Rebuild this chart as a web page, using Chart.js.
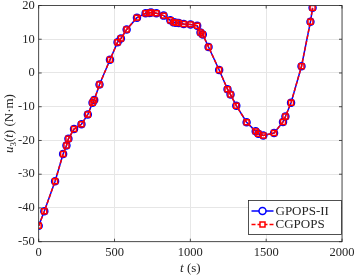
<!DOCTYPE html>
<html>
<head>
<meta charset="utf-8">
<script src="https://cdn.jsdelivr.net/npm/chart.js@4.4.1/dist/chart.umd.min.js"></script>
<style>
  html, body { margin: 0; padding: 0; background: #fff; }
  #wrap { width: 355px; height: 277px; }
</style>
</head>
<body>
<div id="wrap"><canvas id="chart"></canvas></div>
<script>
// t (s) and u3(t) (N·m)
const timeS = [0, 37, 108, 161, 183, 196, 233, 282, 324, 355, 366, 401, 470, 520, 542, 580,
  648, 705, 730, 741, 776, 824, 868, 890, 905, 923, 956, 1001, 1045, 1067, 1082, 1120,
  1190, 1245, 1265, 1303, 1371, 1431, 1448, 1481, 1552, 1611, 1627, 1664, 1733, 1792, 1806];
const gpopsU3 = [-45.3, -41.0, -32.1, -24.0, -21.5, -19.5, -16.6, -15.2, -12.3, -8.8, -8.0, -3.4, 3.9, 9.1, 10.2, 12.9,
  16.4, 17.7, 17.8, 17.9, 17.7, 17.0, 15.6, 15.0, 14.9, 14.8, 14.5, 14.4, 14.0, 12.0, 11.4, 7.7,
  0.9, -4.8, -6.4, -9.7, -14.6, -17.3, -18.0, -18.5, -17.8, -14.5, -12.9, -8.8, 2.0, 15.2, 19.3];
const cgpopsU3 = [-45.3, -41.0, -32.1, -24.0, -21.5, -19.5, -16.6, -15.2, -12.3, -8.8, -8.0, -3.4, 3.9, 9.1, 10.2, 12.9,
  16.4, 17.7, 17.8, 17.9, 17.7, 17.0, 15.6, 15.0, 14.9, 14.8, 14.5, 14.4, 14.0, 12.0, 11.4, 7.7,
  0.9, -4.8, -6.4, -9.7, -14.6, -17.3, -18.0, -18.5, -17.8, -14.5, -12.9, -8.8, 2.0, 15.2, 19.3];
const xTicks = [0, 500, 1000, 1500, 2000];
const yTicks = [-50, -40, -30, -20, -10, 0, 10, 20];
const seriesNames = ["GPOPS-II", "CGPOPS"];

const FONT = "Liberation Serif, Times New Roman, serif";
const AXIS = "#262626";

const toPoints = (ys) => timeS.map((t, i) => ({ x: t, y: ys[i] }));

// frame, inward ticks, tick labels, axis titles, legend (matlab look)
const matlabLook = {
  id: "matlabLook",
  afterDraw(chart) {
    const { ctx, chartArea: a, scales } = chart;
    ctx.save();
    ctx.strokeStyle = AXIS;
    ctx.lineWidth = 0.8;
    ctx.strokeRect(a.left, a.top, a.right - a.left, a.bottom - a.top);

    ctx.beginPath();
    xTicks.forEach((v) => {
      const px = scales.x.getPixelForValue(v);
      ctx.moveTo(px, a.bottom); ctx.lineTo(px, a.bottom - 3);
      ctx.moveTo(px, a.top); ctx.lineTo(px, a.top + 3);
    });
    yTicks.forEach((v) => {
      const py = scales.y.getPixelForValue(v);
      ctx.moveTo(a.left, py); ctx.lineTo(a.left + 3, py);
      ctx.moveTo(a.right, py); ctx.lineTo(a.right - 3, py);
    });
    ctx.stroke();

    // tick labels
    ctx.fillStyle = AXIS;
    ctx.font = "12.5px " + FONT;
    ctx.textBaseline = "middle";
    ctx.textAlign = "center";
    xTicks.forEach((v) => ctx.fillText(String(v), scales.x.getPixelForValue(v), a.bottom + 11));
    ctx.textAlign = "right";
    yTicks.forEach((v) => ctx.fillText(String(v), a.left - 4, scales.y.getPixelForValue(v)));

    // x title: t (s)
    ctx.textBaseline = "alphabetic";
    const cx = (a.left + a.right) / 2;
    const xParts = [["italic 13px " + FONT, "t"], ["13px " + FONT, " (s)"]];
    drawParts(ctx, xParts, cx, 272);

    // y title: u3(t) (N·m)
    ctx.save();
    ctx.translate(13, (a.top + a.bottom) / 2);
    ctx.rotate(-Math.PI / 2);
    const yParts = [["italic 13px " + FONT, "u"], ["9px " + FONT, "3", 3], ["13px " + FONT, "("],
      ["italic 13px " + FONT, "t"], ["13px " + FONT, ") (N·m)"]];
    drawParts(ctx, yParts, 0, 0);
    ctx.restore();

    // legend
    const lx = 248.5, ly = 200.5, lw = 93, lh = 34;
    ctx.fillStyle = "#fff";
    ctx.fillRect(lx, ly, lw, lh);
    ctx.strokeStyle = AXIS;
    ctx.lineWidth = 0.8;
    ctx.strokeRect(lx, ly, lw, lh);
    chart.data.datasets.forEach((ds, i) => {
      const ry = ly + 10.5 + i * 13.5;
      ctx.strokeStyle = ds.borderColor;
      ctx.lineWidth = ds.borderWidth;
      ctx.setLineDash(ds.borderDash || []);
      ctx.beginPath();
      ctx.moveTo(lx + 3, ry); ctx.lineTo(lx + 25, ry);
      ctx.stroke();
      ctx.setLineDash([]);
      ctx.lineWidth = ds.pointBorderWidth;
      ctx.beginPath();
      if (ds.pointStyle === "rect") {
        ctx.rect(lx + 14 - 2.5, ry - 2.5, 5, 5);
      } else {
        ctx.arc(lx + 14, ry, ds.pointRadius, 0, Math.PI * 2);
      }
      ctx.fillStyle = "#fff";
      ctx.fill();
      ctx.stroke();
      ctx.fillStyle = AXIS;
      ctx.font = "13px " + FONT;
      ctx.textBaseline = "middle";
      ctx.textAlign = "left";
      ctx.fillText(ds.label, lx + 27, ry + 0.5);
    });
    ctx.restore();
  }
};

function drawParts(ctx, parts, cx, baseY) {
  let total = 0;
  parts.forEach(([f, s]) => { ctx.font = f; total += ctx.measureText(s).width; });
  let x = cx - total / 2;
  ctx.textAlign = "left";
  parts.forEach(([f, s, dy]) => {
    ctx.font = f;
    ctx.fillText(s, x, baseY + (dy || 0));
    x += ctx.measureText(s).width;
  });
}

new Chart(document.getElementById("chart"), {
  type: "scatter",
  data: {
    datasets: [
      {
        label: seriesNames[0],
        data: toPoints(gpopsU3),
        order: 1,
        showLine: true,
        borderColor: "#0000ff",
        borderWidth: 1.5,
        pointStyle: "circle",
        pointRadius: 3.5,
        pointBorderWidth: 1.5,
        pointBackgroundColor: "rgba(0,0,0,0)",
        pointBorderColor: "#0000ff",
      },
      {
        label: seriesNames[1],
        data: toPoints(cgpopsU3),
        order: 0,
        showLine: true,
        borderColor: "#ff0000",
        borderWidth: 1.5,
        borderDash: [4, 2],
        pointStyle: "rect",
        pointRadius: 3.5,
        pointBorderWidth: 1.5,
        pointBackgroundColor: "rgba(0,0,0,0)",
        pointBorderColor: "#ff0000",
      },
    ],
  },
  options: {
    responsive: true,
    maintainAspectRatio: false,
    animation: false,
    devicePixelRatio: 1,
    layout: { padding: { top: 5, right: 13, left: 0, bottom: 0 } },
    plugins: { legend: { display: false }, tooltip: { enabled: false } },
    scales: {
      x: {
        type: "linear",
        min: 0,
        max: 2000,
        afterBuildTicks: (s) => { s.ticks = xTicks.map((v) => ({ value: v })); },
        afterFit: (s) => { s.height = 35.3; },
        ticks: { display: false },
        grid: { color: "#e6e6e6", drawTicks: false },
        border: { display: false },
      },
      y: {
        type: "linear",
        min: -50,
        max: 20,
        afterBuildTicks: (s) => { s.ticks = yTicks.map((v) => ({ value: v })); },
        afterFit: (s) => { s.width = 38.7; },
        ticks: { display: false },
        grid: { color: "#e6e6e6", drawTicks: false },
        border: { display: false },
      },
    },
  },
  plugins: [matlabLook],
});
</script>
</body>
</html>
